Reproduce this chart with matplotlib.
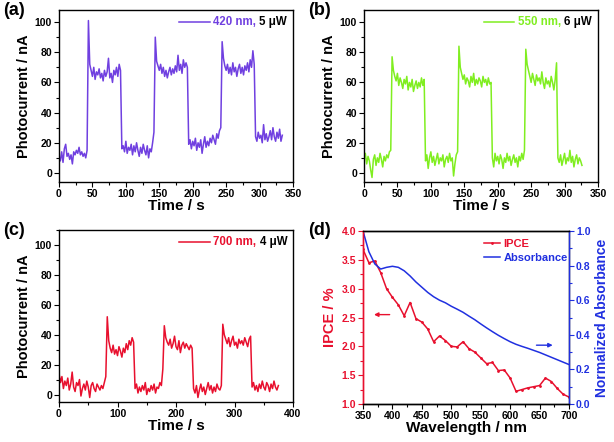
import numpy as np
import matplotlib
matplotlib.use("Agg")
import matplotlib.pyplot as plt
from matplotlib.ticker import MultipleLocator
from matplotlib.offsetbox import TextArea, DrawingArea, HPacker, AnchoredOffsetbox
from matplotlib.lines import Line2D

plt.rcParams['font.family'] = ['Liberation Sans', 'DejaVu Sans']
plt.rcParams['font.weight'] = 'bold'
plt.rcParams['axes.labelweight'] = 'bold'

# ---------------- data ----------------
step_a = 2.0
current_a = [10, 8, 14, 7, 16, 19, 11, 13, 9, 12, 6, 14, 12, 15, 13, 17, 12, 14, 11, 13, 10, 15,
             101, 72, 68, 64, 70, 62, 67, 65, 69, 63, 66, 61, 68, 64, 67, 76, 63, 66, 60, 68, 65, 70, 64, 72,
             68, 16, 18, 14, 21, 13, 17, 15, 19, 12, 18, 14, 20, 15, 11, 17, 13, 19, 15, 12, 18, 10, 16, 14, 20, 27,
             90, 74, 71, 68, 72, 66, 70, 64, 68, 63, 67, 70, 65, 69, 66, 71, 67, 78, 68, 72, 66, 75, 70, 73,
             70, 19, 22, 16, 21, 18, 23, 15, 20, 17, 22, 13, 19, 24, 17, 21, 18, 23, 20, 25, 22, 19, 26, 23, 28, 30,
             87, 76, 71, 68, 72, 66, 70, 65, 73, 67, 70, 64, 69, 72, 66, 70, 65, 71, 68, 73, 67, 75, 70, 81, 72,
             24, 21, 27, 23, 25, 20, 32, 22, 26, 21, 24, 28, 22, 30, 24, 21, 27, 23, 29, 21, 25]

step_b = 2.0
current_b = [10, 13, 6, 11, 8, 2, -3, 9, 12, 5, 10, 7, 13, 9, 4, 11, 8, 12, 10, 14,
             15, 77, 68, 64, 61, 66, 58, 63, 60, 56, 62, 59, 64, 55, 60, 57, 62, 54, 58, 61, 56, 60, 57, 63, 58, 62,
             8, 12, 3, 10, 14, 7, 11, 5, 9, 13, 6, 10, 8, 12, 4, 9, 11, 7, 13, 8, 10, -2, 6, 12,
             14, 84, 70, 66, 62, 65, 59, 63, 61, 57, 64, 60, 66, 58, 62, 59, 63, 61, 57, 64, 60, 62, 58, 63, 59, 60,
             10, 4, 13, 8, 11, 6, 12, 9, 3, 10, 7, 13, 8, 11, 5, 9, 12, 7, 10, 4, 11, 8, 13, 9, 15,
             82, 72, 68, 64, 60, 66, 62, 58, 65, 61, 63, 59, 67, 60, 56, 63, 59, 61, 57, 64, 60, 55, 62, 73,
             10, 7, 12, 5, 9, 13, 6, 10, 8, 15, 7, 11, 4, 9, 12, 6, 10, 8, 5]

step_c = 2.5
current_c = [14, 8, 12, 4, 9, 6, 11, 3, 7, 15, 5, 2, 8, 6, 10, -1, 4, 7, 3, 9, 5, -2, 6, 8, 4, 2, 7, 5, 3, 6, 4, 8,
             12, 52, 36, 31, 28, 33, 27, 30, 26, 32, 29, 25, 31, 28, 34, 30, 36, 33, 38, 35,
             4, 7, 1, 5, 2, 6, 3, 8, 0, 4, 2, 6, 3, 7, 1, 5, 4, 8, 6, 17,
             46, 38, 35, 33, 37, 31, 34, 39, 32, 30, 36, 28, 33, 35, 31, 34, 32, 30, 33, 31,
             4, 1, 6, -2, 3, 7, 2, 5, 0, 4, 8, 3, 6, 1, 5, 2, 7, 4, 3, 6,
             47, 40, 37, 34, 38, 32, 36, 39, 33, 35, 31, 37, 34, 36, 33, 38, 35, 32, 37, 39,
             5, 8, 3, 6, 2, 7, 4, 9, 5, 3, 8, 6, 2, 7, 4, 9, 5, 3, 6]

wavelength = [350, 360, 370, 380, 390, 400, 410, 420, 430, 440, 450, 460, 470, 480, 490, 500, 510, 520,
              530, 540, 550, 560, 570, 580, 590, 600, 610, 620, 630, 640, 650, 660, 670, 680, 690, 700]
ipce = [3.68, 3.45, 3.48, 3.28, 3.00, 2.85, 2.72, 2.53, 2.76, 2.48, 2.42, 2.30, 2.08, 2.18, 2.10, 2.00, 1.99, 2.08,
        1.96, 1.90, 1.80, 1.70, 1.72, 1.58, 1.59, 1.45, 1.22, 1.25, 1.28, 1.30, 1.32, 1.45, 1.39, 1.27, 1.17, 1.12]
absorbance = [1.00, 0.88, 0.81, 0.78, 0.79, 0.796, 0.79, 0.77, 0.74, 0.705, 0.675, 0.645, 0.62, 0.60, 0.585,
              0.565, 0.548, 0.53, 0.508, 0.487, 0.463, 0.44, 0.418, 0.397, 0.378, 0.36, 0.345, 0.333, 0.322,
              0.31, 0.298, 0.284, 0.27, 0.256, 0.242, 0.228]

c_purple = '#7040E0'
c_green = '#80EE20'
c_red = '#E8102E'
c_blue = '#2030E0'

W, H = 614, 442
fig = plt.figure(figsize=(W / 100, H / 100), dpi=100)


def px_axes(left, top, right, bottom):
    return fig.add_axes([left / W, 1 - bottom / H, (right - left) / W, (bottom - top) / H])


def style(ax):
    for s in ax.spines.values():
        s.set_linewidth(1.0)
    ax.tick_params(which='both', direction='out', labelsize=7.5, width=0.8, pad=1.5)
    ax.tick_params(which='major', length=3.5)
    ax.tick_params(which='minor', length=2)
    for lab in ax.get_xticklabels() + ax.get_yticklabels():
        lab.set_fontweight('bold')


def photo_panel(ax, step, values, color, wl_txt, pw_txt, xmax, xmaj, ylim):
    t = np.arange(len(values)) * step
    ax.plot(t, values, color=color, lw=1.1)
    ax.set_xlim(0, xmax)
    ax.set_ylim(*ylim)
    ax.xaxis.set_major_locator(MultipleLocator(xmaj))
    ax.xaxis.set_minor_locator(MultipleLocator(xmaj / 2))
    ax.yaxis.set_major_locator(MultipleLocator(20))
    ax.yaxis.set_minor_locator(MultipleLocator(10))
    ax.set_xlabel('Time / s', fontsize=11, fontweight='bold', labelpad=0)
    ax.set_ylabel('Photocurrent / nA', fontsize=10.5, fontweight='bold', labelpad=3)
    style(ax)
    # legend: coloured line + coloured wavelength + black power
    da = DrawingArea(22, 8, 0, 0)
    da.add_artist(Line2D([0, 22], [4, 4], color=color, lw=1.1))
    t1 = TextArea(wl_txt, textprops=dict(color=color, fontsize=8.3, fontweight='bold'))
    t2 = TextArea(pw_txt, textprops=dict(color='black', fontsize=8.3, fontweight='bold'))
    box = HPacker(children=[da, t1, t2], align='center', pad=0, sep=2.5)
    anch = AnchoredOffsetbox(loc='center right', child=box, pad=0, borderpad=0, frameon=False,
                             bbox_to_anchor=(0.975, 0.93), bbox_transform=ax.transAxes)
    ax.add_artist(anch)


ax_a = px_axes(59, 10, 293, 182)
photo_panel(ax_a, step_a, current_a, c_purple, '420 nm,', '5 μW', 350, 50, (-6, 108))
ax_b = px_axes(364, 10, 598, 182)
photo_panel(ax_b, step_b, current_b, c_green, '550 nm,', '6 μW', 350, 50, (-6, 108))
ax_c = px_axes(59, 230, 293, 402)
photo_panel(ax_c, step_c, current_c, c_red, '700 nm,', '4 μW', 400, 100, (-5, 110))

# panel d
ax_d = px_axes(363, 231, 569, 404)
l1, = ax_d.plot(wavelength, ipce, color=c_red, lw=1.1, marker='.', ms=2)
ax_d.set_xlim(350, 700)
ax_d.set_ylim(1.0, 4.0)
ax_d.xaxis.set_major_locator(MultipleLocator(50))
ax_d.xaxis.set_minor_locator(MultipleLocator(25))
ax_d.yaxis.set_major_locator(MultipleLocator(0.5))
ax_d.yaxis.set_minor_locator(MultipleLocator(0.25))
ax_d.set_xlabel('Wavelength / nm', fontsize=11, fontweight='bold', labelpad=0)
ax_d.set_ylabel('IPCE / %', fontsize=10.5, fontweight='bold', color=c_red, labelpad=3)
style(ax_d)
ax_d.tick_params(axis='y', which='both', colors=c_red)
ax_d.spines['left'].set_color(c_red)

ax_e = ax_d.twinx()
l2, = ax_e.plot(wavelength, absorbance, color=c_blue, lw=1.1)
ax_e.set_ylim(0, 1.0)
ax_e.yaxis.set_major_locator(MultipleLocator(0.2))
ax_e.yaxis.set_minor_locator(MultipleLocator(0.1))
ax_e.set_ylabel('Normalized Absorbance', fontsize=10, fontweight='bold', color=c_blue, labelpad=3)
style(ax_e)
ax_e.tick_params(axis='y', which='both', colors=c_blue)
ax_e.spines['right'].set_color(c_blue)
ax_e.spines['left'].set_color(c_red)

leg = ax_e.legend([l1, l2], ['IPCE', 'Absorbance'], loc='upper right', bbox_to_anchor=(1.0, 0.96),
                  frameon=False, handlelength=1.5, handletextpad=0.3, labelspacing=0.35,
                  borderpad=0, borderaxespad=0.1, prop={'weight': 'bold', 'size': 8})
leg.get_texts()[0].set_color(c_red)
leg.get_texts()[1].set_color(c_blue)

ax_d.annotate('', xy=(364, 2.55), xytext=(400, 2.55),
              arrowprops=dict(arrowstyle='-|>', color=c_red, lw=1.0, mutation_scale=6))
ax_e.annotate('', xy=(677, 0.34), xytext=(640, 0.34),
              arrowprops=dict(arrowstyle='-|>', color=c_blue, lw=1.0, mutation_scale=6))

# panel letters
for txt, x, y in [('(a)', 3, 2), ('(b)', 308, 2), ('(c)', 3, 222), ('(d)', 308, 222)]:
    fig.text(x / W, 1 - y / H, txt, fontsize=13, fontweight='bold', ha='left', va='top')

fig.savefig('out.png', dpi=100)
